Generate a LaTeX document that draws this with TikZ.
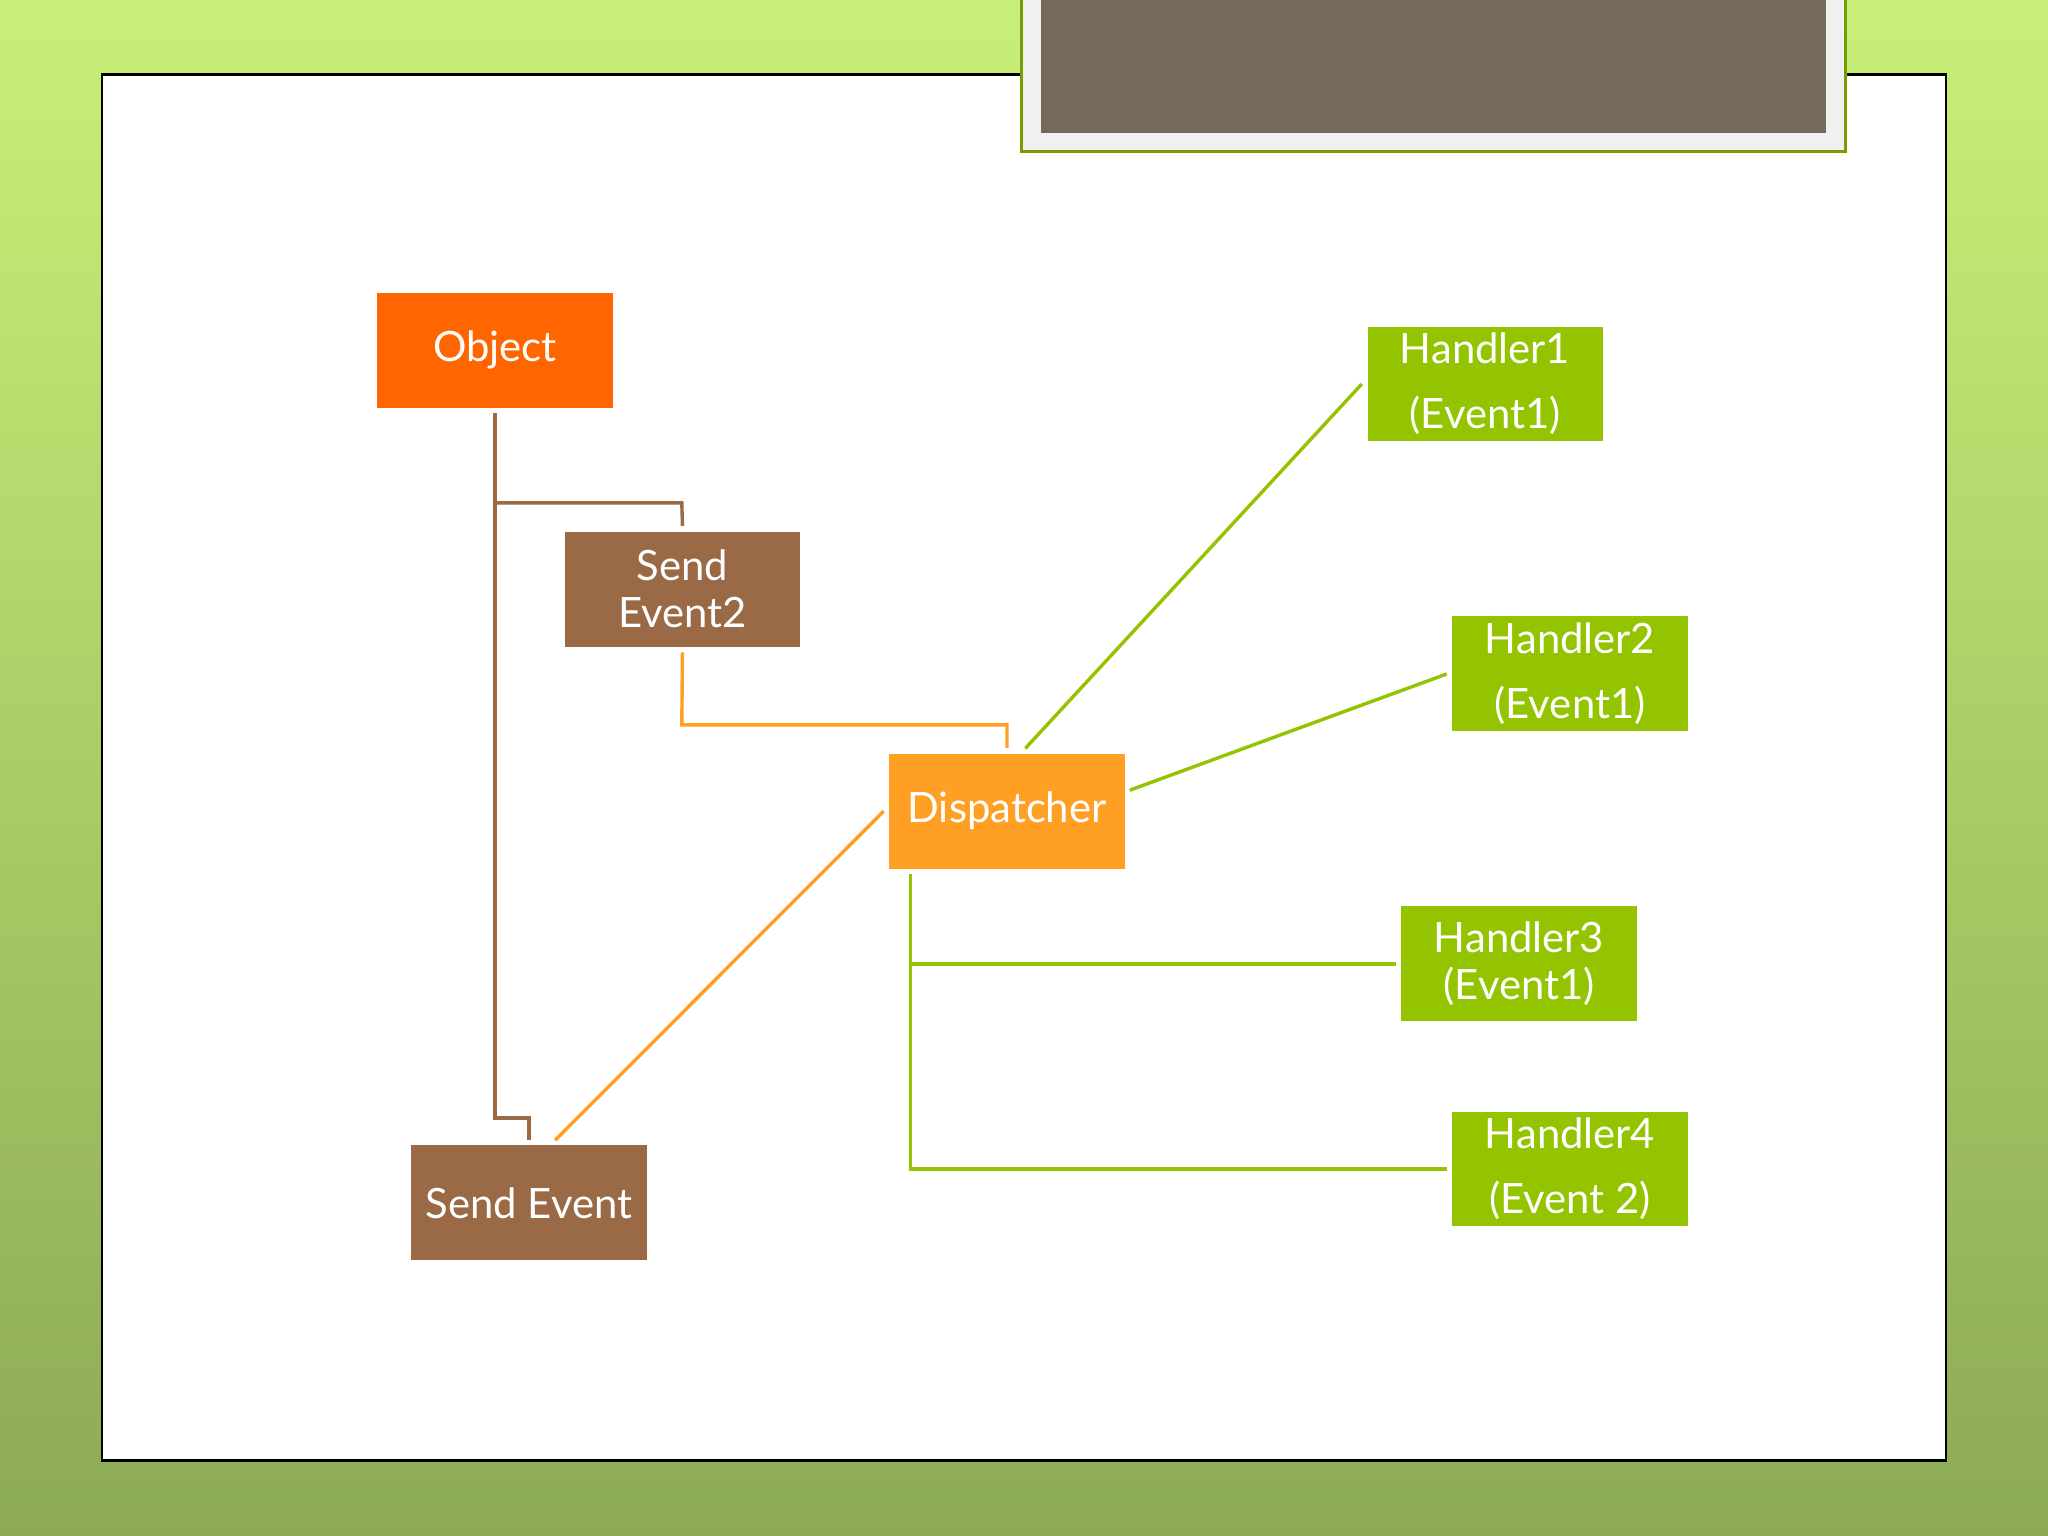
\documentclass[tikz,border=0pt]{standalone}
\usepackage{fontspec}
\setmainfont{Lato}
\definecolor{objc}{HTML}{FF6600}
\definecolor{brownc}{HTML}{996A45}
\definecolor{dispc}{HTML}{FFA024}
\definecolor{handc}{HTML}{94C300}
\definecolor{titlec}{HTML}{75695A}
\begin{document}
\begin{tikzpicture}[x=0.5pt,y=-0.5pt,
 box/.style={minimum width=90pt,minimum height=44pt,inner sep=0pt,text=white,align=center,font=\fontsize{16}{25}\selectfont},
 bline/.style={draw=brownc,line width=1.3pt},
 oline/.style={draw=dispc,line width=1.3pt},
 gline/.style={draw=handc,line width=1.3pt}]
\useasboundingbox (0,0) rectangle (1568,1176);
\shade[top color={rgb,255:red,200;green,240;blue,120},bottom color={rgb,255:red,140;green,170;blue,85}] (0,0) rectangle (1568,1176);
\draw[fill=white,line width=1pt] (78,57) rectangle (1490,1118);
\draw[fill={rgb,255:red,240;green,240;blue,240},draw=handc!80!black,line width=1.2pt] (782,-5) rectangle (1413,116);
\fill[titlec] (797,0) rectangle (1398,102);
\node[box,fill=objc] (obj) at (379,268) {Object};
\node[box,fill=brownc,font=\fontsize{16}{18}\selectfont] (se2) at (522.5,451) {Send\\Event2};
\node[box,fill=dispc] (disp) at (771,621) {Dispatcher};
\node[box,fill=brownc] (se) at (405,921) {Send Event};
\node[box,fill=handc] (h1) at (1137,294) {Handler1\\(Event1)};
\node[box,fill=handc] (h2) at (1202,516) {Handler2\\(Event1)};
\node[box,fill=handc,font=\fontsize{16}{18}\selectfont] (h3) at (1163,738) {Handler3\\(Event1)};
\node[box,fill=handc] (h4) at (1202,895) {Handler4\\(Event 2)};
\coordinate (c1) at (379,385);
\draw[bline] ([yshift=-2pt]obj.south) -- (379,856) -- (405,856) -- ([yshift=2pt]se.north);
\draw[bline] (c1) -- (522,385) -- ([yshift=2pt]se2.north);
\draw[oline] ([yshift=-2pt]se2.south) -- (522,555) -- (771,555) -- ([yshift=2pt]disp.north);
\draw[oline] (425,873) -- ([xshift=-2pt]disp.west);
\draw[gline] (785,573) -- ([xshift=-2pt]h1.west);
\draw[gline] (865,605) -- ([xshift=-2pt]h2.west);
\draw[gline] (697,669) -- (697,895) -- ([xshift=-2pt]h4.west);
\draw[gline] (697,738) -- ([xshift=-2pt]h3.west);
\end{tikzpicture}
\end{document}
